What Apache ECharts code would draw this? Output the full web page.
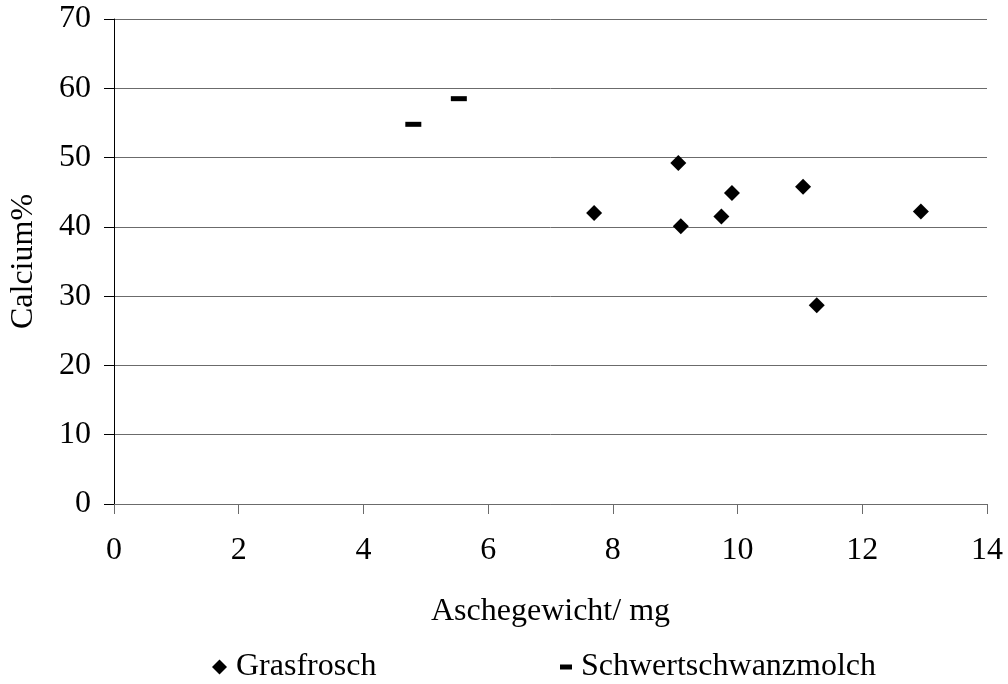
<!DOCTYPE html>
<html>
<head>
<meta charset="utf-8">
<script src="https://cdn.jsdelivr.net/npm/echarts@6/dist/echarts.min.js"></script>
<style>
  html, body { margin: 0; padding: 0; background: #fff; }
  #chart { width: 1008px; height: 684px; }
</style>
</head>
<body>
<div id="chart"></div>
<script>
// Ash weight (mg) and calcium share (%) per animal
const grasfroschAsche   = [7.70, 9.05, 9.09, 9.74, 9.91, 11.05, 11.27, 12.94];
const grasfroschCalcium = [42.0, 49.2, 40.1, 41.5, 44.9, 45.8, 28.7, 42.2];
const molchAsche        = [4.80, 5.53];
const molchCalcium      = [54.8, 58.5];

const seriesNames = ['Grasfrosch', 'Schwertschwanzmolch'];
const xTitle = 'Aschegewicht/ mg';
const yTitle = 'Calcium%';

const FONT = '"Liberation Serif", "DejaVu Serif", serif';
const SIZE = 32;

function pairs(xs, ys) { return xs.map((x, i) => [x, ys[i]]); }

const chart = echarts.init(document.getElementById('chart'), null, { renderer: 'canvas' });
chart.setOption({
  backgroundColor: '#ffffff',
  animation: false,
  textStyle: { fontFamily: FONT, color: '#000' },
  grid: { left: 114, right: 21, top: 19, bottom: 180, containLabel: false },
  xAxis: {
    type: 'value', min: 0, max: 14, interval: 2,
    name: xTitle, nameLocation: 'middle', nameGap: 92,
    nameTextStyle: { fontFamily: FONT, fontSize: SIZE, color: '#000' },
    axisLine: { onZero: false, lineStyle: { color: '#6b6b6b', width: 1 } },
    axisTick: { show: true, inside: false, length: 10, lineStyle: { color: '#6b6b6b' } },
    axisLabel: { fontFamily: FONT, fontSize: SIZE, color: '#000', margin: 31 },
    splitLine: { show: false }
  },
  yAxis: {
    type: 'value', min: 0, max: 70, interval: 10,
    name: yTitle, nameLocation: 'middle', nameGap: 74, nameRotate: 90,
    nameTextStyle: { fontFamily: FONT, fontSize: SIZE, color: '#000' },
    axisLine: { show: true, lineStyle: { color: '#000', width: 1 } },
    axisTick: { show: true, inside: false, length: 10, lineStyle: { color: '#000' } },
    axisLabel: { fontFamily: FONT, fontSize: SIZE, color: '#000', margin: 23 },
    splitLine: { show: true, lineStyle: { color: '#6b6b6b', width: 1 } }
  },
  legend: [
    {
      data: [{ name: seriesNames[0], icon: 'diamond', itemStyle: { color: '#000', opacity: 1 } }],
      left: 207, top: 646, itemWidth: 15, itemHeight: 15, itemGap: 0,
      textStyle: { fontFamily: FONT, fontSize: SIZE, color: '#000', padding: [0, 0, 0, 4] }
    },
    {
      data: [{ name: seriesNames[1], icon: 'rect', itemStyle: { color: '#000', opacity: 1 } }],
      left: 555, top: 646, itemWidth: 12, itemHeight: 5, itemGap: 0,
      textStyle: { fontFamily: FONT, fontSize: SIZE, color: '#000', padding: [0, 0, 0, 4] }
    }
  ],
  series: [
    {
      name: seriesNames[0], type: 'scatter', symbol: 'diamond', symbolSize: 16,
      itemStyle: { color: '#000', opacity: 1 },
      data: pairs(grasfroschAsche, grasfroschCalcium)
    },
    {
      name: seriesNames[1], type: 'scatter', symbol: 'rect', symbolSize: [16, 5],
      itemStyle: { color: '#000', opacity: 1 },
      data: pairs(molchAsche, molchCalcium)
    }
  ]
});
</script>
</body>
</html>
